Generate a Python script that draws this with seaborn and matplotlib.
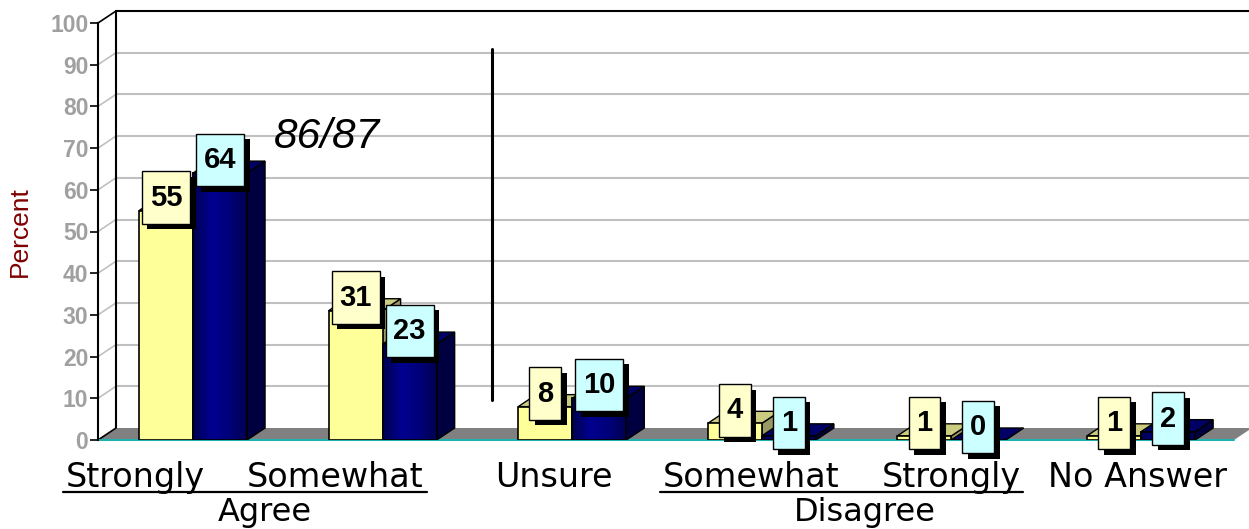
import numpy as np
import pandas as pd
import matplotlib
matplotlib.use("Agg")
import matplotlib.pyplot as plt
import seaborn as sns
from matplotlib.patches import Polygon, Rectangle
from matplotlib.lines import Line2D
from matplotlib.path import Path
from matplotlib.colors import LinearSegmentedColormap

# ---------------- data ----------------
categories = ["Strongly Agree", "Somewhat Agree", "Unsure",
              "Somewhat Disagree", "Strongly Disagree", "No Answer"]
series_names = ["Series 1", "Series 2"]
values_s1 = [55, 31, 8, 4, 1, 1]
values_s2 = [64, 23, 10, 1, 0, 2]
y_ticks = list(range(0, 101, 10))
row_labels = ["Strongly", "Somewhat", "Unsure", "Somewhat", "Strongly", "No Answer"]
group_labels = ["Agree", "Disagree"]
annotation_text = "86/87"
y_label = "Percent"

# ---------------- styling ----------------
YELLOW = "#FFFF99"
NAVY = "#000080"
BOX_COLORS = ["#FFFFCC", "#CCFFFF"]
SIDE_COLORS = ["#999966", "#000040"]
TOP_COLORS = ["#CCCC80", "#000066"]


class RectPad:
    """Rectangular box with separate horizontal / vertical padding."""
    def __init__(self, padx, pady):
        self.padx = padx
        self.pady = pady

    def __call__(self, x0, y0, width, height, mutation_size):
        px = self.padx * mutation_size
        py = self.pady * mutation_size
        x0, y0 = x0 - px, y0 - py
        x1, y1 = x0 + width + 2 * px, y0 + height + 2 * py
        return Path([(x0, y0), (x1, y0), (x1, y1), (x0, y1), (x0, y0)], closed=True)


sns.set_style("white")
plt.rcParams["font.family"] = ["Liberation Sans", "DejaVu Sans"]

W, H = 1249, 529
fig = plt.figure(figsize=(W / 100, H / 100), dpi=100)
ax = fig.add_axes([98 / W, 1 - 440 / H, 1136 / W, 417 / H])

df = pd.DataFrame({
    "category": categories * 2,
    "series": [series_names[0]] * len(categories) + [series_names[1]] * len(categories),
    "value": values_s1 + values_s2,
})

sns.barplot(data=df, x="category", y="value", hue="series", order=categories,
            hue_order=series_names, palette=[YELLOW, NAVY], width=0.57, gap=0,
            saturation=1, edgecolor="black", linewidth=1.2, errorbar=None,
            legend=False, ax=ax)

XL, XR = -0.501, 5.49
ax.set_xlim(XL, XR)
ax.set_ylim(0, 100)
px_x = 1136 / (XR - XL)
px_y = 417 / 100
DX = 18 / px_x
DY = 12 / px_y

# ---------------- walls / floor / grid ----------------
for y in y_ticks[1:]:
    col = "black" if y == 100 else "#C0C0C0"
    ax.plot([XL + DX, XR + DX], [y + DY, y + DY], color=col, lw=1.5,
            clip_on=False, zorder=0.5)
    ax.plot([XL, XL + DX], [y, y + DY], color=col, lw=1.2,
            clip_on=False, zorder=0.5)
ax.plot([XL + DX, XL + DX], [DY, 100 + DY], color="black", lw=1.5,
        clip_on=False, zorder=0.6)

floor = Polygon([(XL, 0), (XR, 0), (XR + DX, DY), (XL + DX, DY)],
                closed=True, fc="#808080", ec="none", zorder=1.5, clip_on=False)
ax.add_patch(floor)
ax.plot([XL, XL + DX], [0, DY], color="black", lw=1.2, zorder=1.6, clip_on=False)
ax.plot([XL, XR], [0, 0], color="#20B0B0", lw=1.5, zorder=1.6, clip_on=False)

# ---------------- 3D bar faces ----------------
grad = LinearSegmentedColormap.from_list("navy", ["#000050", "#000090", "#00007A", "#000050"])
gimg = np.linspace(0, 1, 64).reshape(1, -1)

for si, cont in enumerate(ax.containers[:2]):
    base_z = 2 + si * 2
    for patch in cont.patches:
        x0 = patch.get_x()
        w = patch.get_width()
        h = patch.get_height()
        x1 = x0 + w
        side = Polygon([(x1, 0), (x1 + DX, DY), (x1 + DX, h + DY), (x1, h)],
                       closed=True, fc=SIDE_COLORS[si], ec="black", lw=1.0,
                       zorder=base_z)
        top = Polygon([(x0, h), (x0 + DX, h + DY), (x1 + DX, h + DY), (x1, h)],
                      closed=True, fc=TOP_COLORS[si], ec="black", lw=1.0,
                      zorder=base_z)
        ax.add_patch(side)
        ax.add_patch(top)
        patch.set_zorder(base_z + 0.5)
        if si == 1 and h > 0:
            im = ax.imshow(gimg, cmap=grad, extent=(x0, x1, 0, h), aspect="auto",
                           zorder=base_z + 0.6, interpolation="bilinear")
            im.set_clip_path(patch)
            edge = Rectangle((x0, 0), w, h, fc="none", ec="black", lw=1.2,
                             zorder=base_z + 0.7)
            ax.add_patch(edge)

ax.set_xlim(XL, XR)
ax.set_ylim(0, 100)

# ---------------- value labels ----------------
labels = []
for si, cont in enumerate(ax.containers[:2]):
    for patch, v in zip(cont.patches, cont.datavalues):
        xc = patch.get_x() + patch.get_width() / 2
        h = patch.get_height()
        t = ax.annotate(f"{v:g}", xy=(xc, h), xytext=(0, 9.4),
                        textcoords="offset points", ha="center", va="center",
                        fontsize=21, fontweight="bold", color="black",
                        annotation_clip=False,
                        bbox=dict(boxstyle=RectPad(0.27, 0.42), fc=BOX_COLORS[si],
                                  ec="black", lw=1),
                        zorder=10)
        labels.append(t)

# ---------------- axes styling ----------------
ax.set_xticks([])
ax.set_xlabel("")
ax.set_ylabel("")
ax.set_yticks(y_ticks)
ax.set_yticklabels([str(t) for t in y_ticks], color="#A0A0A0",
                   fontweight="bold", fontsize=16.5)
ax.tick_params(axis="y", length=6, width=1.2, color="black", pad=1, left=True)
for s in ["top", "right", "bottom"]:
    ax.spines[s].set_visible(False)
ax.spines["left"].set_color("black")
ax.spines["left"].set_linewidth(1.5)
ax.spines["left"].set_zorder(5)
ax.patch.set_alpha(0)

fig.text(20 / W, 1 - 232 / H, y_label, rotation=90, ha="center", va="center",
         color="#800000", fontsize=19)

# divider and annotation
ax.plot([(492 - 193) / px_x] * 2, [9.6, 93.8], color="black", lw=2.2, zorder=6)
ax.text((327.5 - 193) / px_x, 70.0, annotation_text, ha="center", va="baseline",
        fontsize=30.5, style="italic", color="black", zorder=6)

# ---------------- category labels ----------------
label_px = [135, 335.5, 554, 751, 951, 1138]
for lab, xp in zip(row_labels, label_px):
    fig.text(xp / W, 1 - 487 / H, lab, ha="center", va="baseline",
             fontsize=24, family="DejaVu Sans", color="black")
for (xa, xb) in [(63, 427), (660, 1023)]:
    fig.add_artist(Line2D([xa / W, xb / W], [1 - 492 / H] * 2, color="black",
                          lw=1.6, transform=fig.transFigure))
for lab, xp in zip(group_labels, [264.5, 865]):
    fig.text(xp / W, 1 - 521 / H, lab, ha="center", va="baseline",
             fontsize=23, family="DejaVu Sans", color="black")

# ---------------- drop shadows behind the label boxes ----------------
fig.canvas.draw()
SHX, SHY = 5.5, 5.5
for t in labels:
    bb = t.get_bbox_patch().get_window_extent()
    shadow = Rectangle((bb.x0 + SHX, bb.y0 - SHY), bb.width, bb.height,
                       transform=None, fc="black", ec="black", lw=0,
                       zorder=9.5, clip_on=False)
    ax.add_artist(shadow)

fig.savefig("out.png", dpi=100)
